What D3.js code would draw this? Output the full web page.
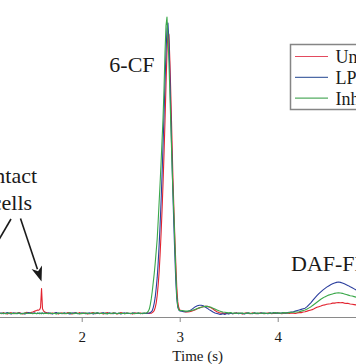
<!DOCTYPE html>
<html>
<head>
<meta charset="utf-8">
<script src="https://cdn.jsdelivr.net/npm/d3@7"></script>
<style>
  html, body { margin: 0; padding: 0; background: #fff; }
  svg { display: block; }
  text { font-family: "Liberation Serif", "Times New Roman", serif; }
</style>
</head>
<body>
<svg id="chart" width="356" height="364"></svg>
<script>
// ---------------- data ----------------
const time = [
  1.16,1.18,1.20,1.22,1.24,1.26,1.28,1.30,1.32,1.34,1.36,1.38,1.40,1.42,1.44,1.46,1.48,1.50,1.52,1.54,
  1.55,1.56,1.57,1.58,1.59,1.60,1.61,1.62,1.63,
  1.64,1.66,1.68,1.70,1.72,1.74,1.76,1.78,1.80,1.82,1.84,1.86,1.88,1.90,1.92,1.94,1.96,1.98,2.00,2.02,
  2.04,2.06,2.08,2.10,2.12,2.14,2.16,2.18,2.20,2.22,2.24,2.26,2.28,2.30,2.32,2.34,2.36,2.38,2.40,2.42,
  2.44,2.46,2.48,2.50,2.52,2.54,2.56,2.58,2.60,2.62,2.64,
  2.65,2.66,2.67,2.68,2.69,2.70,2.71,2.72,2.73,2.74,2.75,2.76,2.77,2.78,2.79,2.80,2.81,2.82,2.83,2.84,
  2.85,2.86,2.87,2.88,2.89,2.90,2.91,2.92,2.93,2.94,2.95,2.96,2.97,2.98,2.99,3.00,
  3.02,3.04,3.06,3.08,3.10,3.12,3.14,3.16,3.18,3.20,3.22,3.24,3.26,3.28,3.30,3.32,3.34,3.36,3.38,3.40,
  3.42,3.44,3.46,3.48,3.50,3.52,3.54,3.56,3.58,3.60,3.62,3.64,3.66,3.68,3.70,3.72,3.74,3.76,3.78,3.80,
  3.82,3.84,3.86,3.88,3.90,3.92,3.94,3.96,3.98,4.00,4.02,4.04,4.06,4.08,4.10,4.12,4.14,4.16,4.18,4.20,
  4.22,4.24,4.26,4.28,4.30,4.32,4.34,4.36,4.38,4.40,4.42,4.44,4.46,4.48,4.50,4.52,4.54,4.56,4.58,4.60,
  4.62,4.64,4.66,4.68,4.70,4.72,4.74,4.76,4.78,4.80
];

const untreated = [
  0.2,-0.1,0.3,0.0,-0.2,0.1,0.3,-0.1,0.2,0.0,0.3,0.1,-0.2,0.2,0.4,0.1,0.3,0.5,0.8,1.0,
  1.2,1.1,1.3,2.0,8.4,1.6,0.9,0.6,0.4,
  0.3,0.1,-0.1,0.2,0.0,0.3,-0.2,0.1,0.2,-0.1,0.0,0.3,0.1,-0.2,0.2,0.1,0.0,0.3,-0.1,0.2,
  0.1,-0.2,0.0,0.2,0.3,-0.1,0.1,0.0,0.2,-0.2,0.1,0.3,0.0,-0.1,0.2,0.1,-0.2,0.0,0.3,0.1,
  -0.1,0.2,0.0,0.1,-0.2,0.2,0.1,0.0,0.2,-0.1,0.1,
  0.1,0.0,0.2,0.1,0.0,0.2,0.1,0.3,0.6,1.0,2.0,3.5,6,9.5,14,20,27,35,44,54,
  65,77,88,95,94,85,73,60,47,36,26,17,9,4,2.0,1.2,
  1.0,0.7,0.5,0.5,0.6,0.8,1.0,1.3,1.6,1.9,2.1,2.3,2.4,2.4,2.2,1.9,1.5,1.0,0.6,0.3,
  0.1,0.2,-0.1,0.1,0.0,0.2,-0.1,0.1,0.2,0.0,0.1,-0.2,0.1,0.2,0.0,-0.1,0.2,0.1,-0.1,0.0,
  0.2,0.1,-0.1,0.0,0.2,0.1,-0.1,0.1,0.0,0.2,0.1,-0.1,0.0,0.2,0.1,0.0,0.2,0.1,0.0,0.2,
  0.3,0.3,0.5,0.6,0.8,1.0,1.2,1.4,1.8,2.1,2.3,2.5,2.8,2.9,3.1,3.2,3.3,3.5,3.5,3.6,
  3.7,3.6,3.7,3.5,3.4,3.4,3.2,3.1,3.0,2.9
];

const lps = [
  0.0,0.2,-0.1,0.1,0.3,0.0,-0.2,0.2,0.1,-0.1,0.2,0.0,0.1,-0.2,0.1,0.3,0.0,0.1,0.2,-0.1,
  0.1,0.0,0.2,0.1,-0.1,0.2,0.0,0.1,0.2,
  0.0,0.2,0.1,-0.2,0.1,0.3,0.0,0.1,-0.1,0.2,0.1,0.0,-0.2,0.2,0.1,0.3,-0.1,0.0,0.2,0.1,
  -0.1,0.1,0.2,0.0,-0.2,0.1,0.2,0.1,0.0,0.3,-0.1,0.0,0.2,0.1,-0.1,0.2,0.0,0.1,-0.2,0.1,
  0.2,0.0,0.1,-0.1,0.2,0.1,0.0,0.2,-0.1,0.1,0.0,
  0.1,0.0,0.2,0.1,0.2,0.3,0.6,1.0,2.0,3.5,5.5,8.5,12,17,23,30,38,47,57,67,
  78,88,96,98,92,80,66,53,41,30,20,11,5,2.2,1.2,0.9,
  0.8,0.6,0.6,0.7,0.9,1.3,1.8,2.3,2.6,2.8,2.8,2.6,2.2,1.8,1.3,0.9,0.5,0.2,0.0,-0.2,
  -0.3,-0.1,-0.3,0.0,-0.2,0.1,-0.1,0.0,0.2,-0.1,0.1,0.0,-0.2,0.1,0.2,0.0,-0.1,0.2,0.1,-0.1,
  0.1,0.2,0.0,0.1,-0.1,0.2,0.1,0.3,0.1,0.2,0.0,0.2,0.3,0.1,0.3,0.4,0.5,0.6,0.8,1.0,
  1.2,1.4,1.6,1.8,2.3,3.0,3.7,4.5,5.3,6.0,6.7,7.3,7.9,8.4,8.9,9.3,9.7,10.0,10.3,10.5,
  10.6,10.5,10.3,10.0,9.7,9.4,9.0,8.7,8.3,7.9
];

const inhibitor = [
  0.1,0.0,0.2,-0.1,0.1,0.2,0.0,0.1,-0.1,0.2,0.1,-0.2,0.0,0.2,0.1,0.0,0.2,-0.1,0.1,0.0,
  0.2,0.1,-0.1,0.0,0.2,0.1,-0.1,0.2,0.0,
  0.1,-0.1,0.2,0.0,0.1,-0.2,0.2,0.1,0.0,0.2,-0.1,0.1,0.3,0.0,-0.1,0.2,0.1,-0.2,0.1,0.0,
  0.2,0.1,-0.1,0.0,0.2,0.1,0.3,-0.1,0.1,0.0,0.2,-0.2,0.1,0.0,0.2,0.1,-0.1,0.2,0.0,0.1,
  -0.1,0.2,0.1,0.0,0.2,-0.1,0.1,0.2,0.0,0.1,0.2,
  0.1,0.2,0.4,0.8,1.5,3.0,5.0,7.5,10.5,13.5,17,21,25,31,37.5,44,51,58.5,66,76,
  88,97,100,93,85,74,63,52,42,34,24,14,6,2.5,1.3,1.0,
  1.0,0.9,0.8,0.8,0.9,1.0,1.2,1.4,1.7,1.9,2.1,2.3,2.4,2.4,2.3,2.1,1.8,1.5,1.2,0.9,
  0.7,0.5,0.4,0.3,0.2,0.3,0.1,0.2,0.0,0.2,0.1,0.2,0.0,0.1,0.2,0.1,0.0,0.2,0.1,0.2,
  0.0,0.1,0.2,0.1,0.0,0.2,0.1,0.2,0.3,0.1,0.2,0.1,0.3,0.2,0.2,0.3,0.4,0.4,0.5,0.5,
  0.6,0.8,1.0,1.2,1.5,1.9,2.3,2.8,3.3,3.8,4.3,4.8,5.2,5.6,5.9,6.2,6.4,6.6,6.8,6.9,
  7.0,6.9,6.8,6.6,6.4,6.2,6.0,5.9,5.7,5.5
];

const seriesNames = ["Untreated", "LPS", "Inhibitor"];
const seriesColors = ["#e2232f", "#2c3f9e", "#3aa84a"];
const legendColors = ["#e34a5e", "#4d6aa6", "#55ad62"];
const tickValues = [2, 3, 4];
const peakLabels = [
  { text: "6-CF", t: 2.866 },
  { text: "DAF-FM", t: 4.63 }
];
const spikeTime = 1.59, spikeValue = 8.4;

// ---------------- drawing ----------------
const svg = d3.select("#chart");
const x = d3.scaleLinear().domain([1.16, 4.80]).range([-0.6, 356.1]);
const y = d3.scaleLinear().domain([0, 100]).range([313.5, 17]);

// x axis
const axisY = 317;
const axis = svg.append("g")
  .attr("transform", `translate(0,${axisY})`)
  .call(d3.axisBottom(x).tickValues(tickValues).tickSize(5).tickSizeOuter(0).tickPadding(9)
    .tickFormat(d3.format("d")));
axis.select(".domain").attr("stroke", "#8a8a8a").attr("stroke-width", 1);
axis.selectAll(".tick line").attr("stroke", "#8a8a8a").attr("stroke-width", 1);
axis.selectAll(".tick text")
  .attr("fill", "#1a1a1a")
  .style("font-family", '"Liberation Serif", "Times New Roman", serif')
  .style("font-size", "15px");

svg.append("text")
  .attr("x", 197.7).attr("y", 360.5)
  .attr("text-anchor", "middle")
  .attr("fill", "#1a1a1a")
  .style("font-size", "15px")
  .text("Time (s)");

// traces
const allSeries = [untreated, lps, inhibitor];
const line = d3.line().x(d => x(d[0])).y(d => y(d[1]));
allSeries.forEach((vals, i) => {
  svg.append("path")
    .datum(d3.zip(time, vals))
    .attr("fill", "none")
    .attr("stroke", seriesColors[i])
    .attr("stroke-width", 1.1)
    .attr("stroke-linejoin", "round")
    .attr("d", line);
});

// peak labels
svg.append("text")
  .attr("x", x(peakLabels[0].t) - 12).attr("y", 72)
  .attr("text-anchor", "end")
  .attr("fill", "#1a1a1a")
  .style("font-size", "22px")
  .text(peakLabels[0].text);

svg.append("text")
  .attr("x", 291).attr("y", 271)
  .attr("fill", "#1a1a1a")
  .style("font-size", "22px")
  .text(peakLabels[1].text);

// "Intact cells" annotation (partially cut at left)
const ann = svg.append("text")
  .attr("text-anchor", "middle")
  .attr("fill", "#1a1a1a")
  .style("font-size", "22px");
ann.append("tspan").attr("x", 12).attr("y", 183).text("Intact");
ann.append("tspan").attr("x", 12).attr("y", 210).text("cells");

function arrow(x1, y1, x2, y2) {
  const dx = x2 - x1, dy = y2 - y1;
  const len = Math.hypot(dx, dy);
  const ux = dx / len, uy = dy / len;
  const headL = 15, headW = 5.5;
  const bx = x2 - ux * headL, by = y2 - uy * headL;
  svg.append("line")
    .attr("x1", x1).attr("y1", y1).attr("x2", bx + ux * 2).attr("y2", by + uy * 2)
    .attr("stroke", "#1a1a1a").attr("stroke-width", 1.6);
  svg.append("path")
    .attr("d", `M${x2},${y2}L${bx - uy * headW},${by + ux * headW}L${bx + ux * 4},${by + uy * 4}L${bx + uy * headW},${by - ux * headW}Z`)
    .attr("fill", "#1a1a1a");
}
arrow(20.5, 218.5, x(spikeTime), y(spikeValue) - 7);
arrow(11, 219, -14, 262);

// legend (cut at the right edge)
const lg = svg.append("g");
lg.append("rect")
  .attr("x", 290.5).attr("y", 44.5).attr("width", 120).attr("height", 65)
  .attr("fill", "#fff").attr("stroke", "#858585").attr("stroke-width", 1.5);
seriesNames.forEach((name, i) => {
  const ly = 56.5 + i * 20.8;
  lg.append("line")
    .attr("x1", 295).attr("x2", 328).attr("y1", ly).attr("y2", ly)
    .attr("stroke", legendColors[i]).attr("stroke-width", 1.2);
  lg.append("text")
    .attr("x", 335.5).attr("y", ly + 6.5)
    .attr("fill", "#1a1a1a")
    .style("font-size", "18px")
    .text(name);
});
</script>
</body>
</html>
